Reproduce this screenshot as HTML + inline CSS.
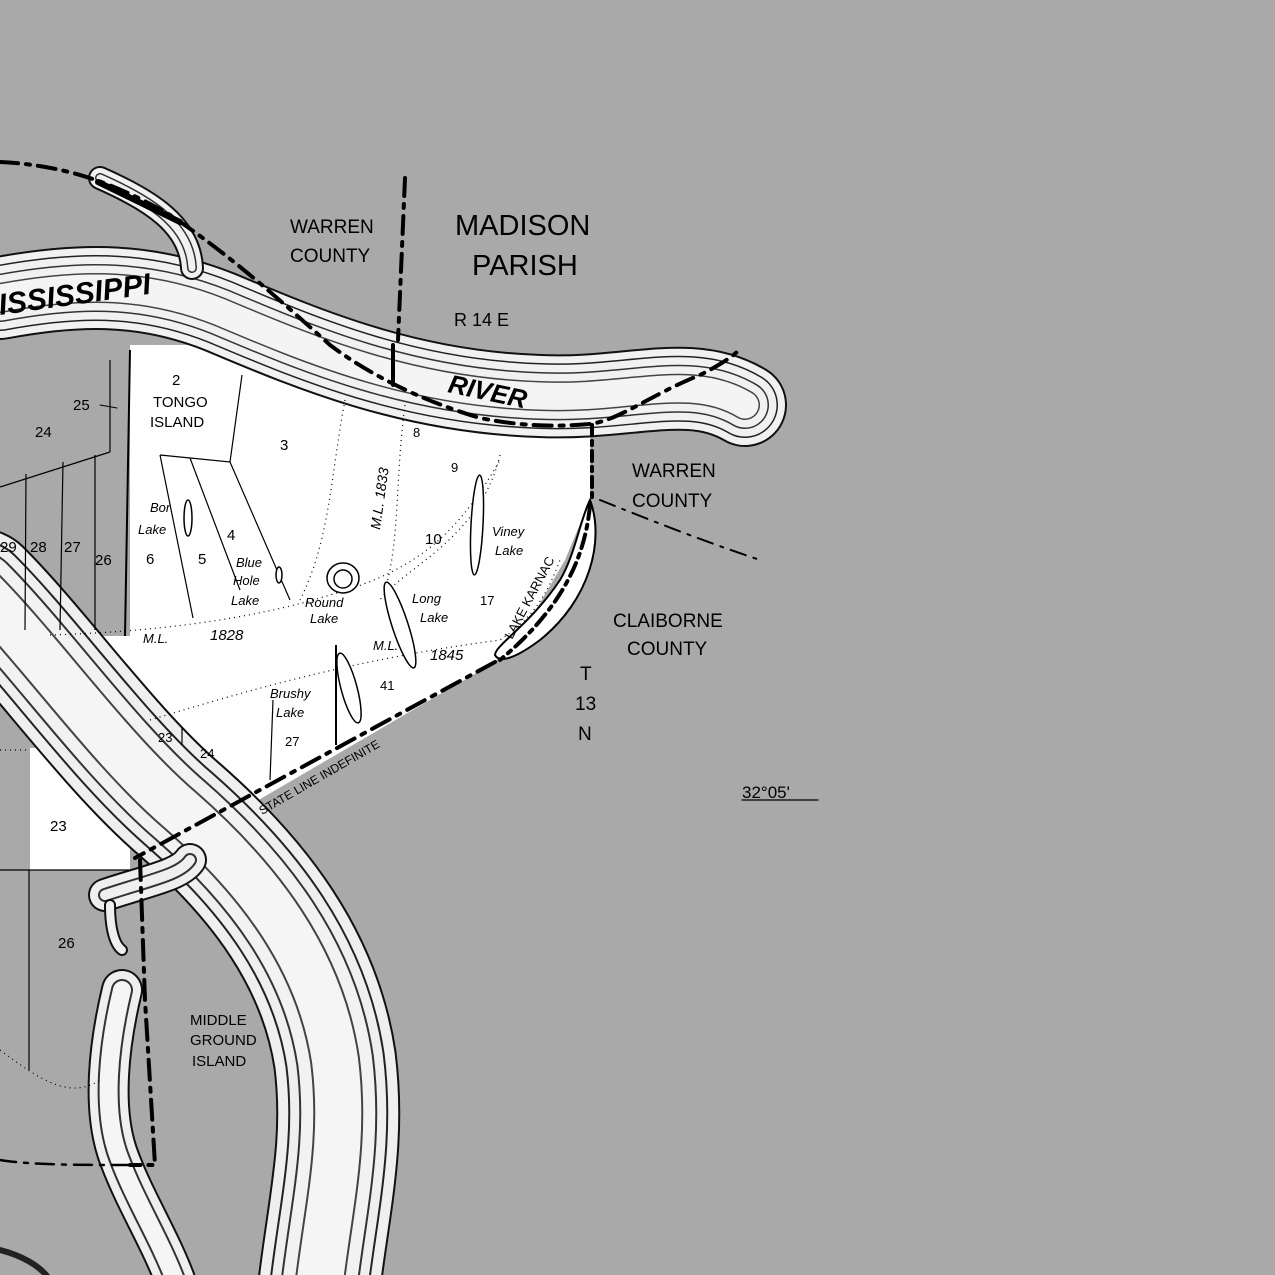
<!DOCTYPE html>
<html><head><meta charset="utf-8"><style>
html,body{margin:0;padding:0;background:#a9a9a9;}
svg{display:block}
text{font-family:"Liberation Sans",sans-serif;fill:#000}
</style></head><body>
<svg width="1275" height="1275" viewBox="0 0 1275 1275" xmlns="http://www.w3.org/2000/svg">
<rect width="1275" height="1275" fill="#a9a9a9"/>
<!-- white land -->
<polygon points="130,345 240,345 350,370 450,405 520,420 590,420 590,500 565,560 530,620 495,662 250,805 100,805 0,700 0,636 130,636" fill="#fff"/>
<rect x="30" y="748" width="100" height="122" fill="#fff"/>
<defs>
<path id="tr" d="M0,298 C70,285 140,280 220,312 C310,350 410,392 540,396 C630,400 690,372 745,405"/>
<path id="lr" d="M-20,590 C40,650 110,750 180,810 C260,880 320,960 335,1060 C345,1140 330,1200 320,1280"/>
<path id="br" d="M100,178 C150,200 190,225 192,268"/>
</defs>
<g fill="none" stroke-linecap="round" stroke-linejoin="round">
<use href="#tr" stroke="#111" stroke-width="84"/>
<use href="#tr" stroke="#f1f1f1" stroke-width="80"/>
<use href="#tr" stroke="#222" stroke-width="66"/>
<use href="#tr" stroke="#f1f1f1" stroke-width="63"/>
<use href="#tr" stroke="#333" stroke-width="48"/>
<use href="#tr" stroke="#f1f1f1" stroke-width="45"/>
<use href="#tr" stroke="#444" stroke-width="30"/>
<use href="#tr" stroke="#f4f4f4" stroke-width="27"/>
<use href="#br" stroke="#111" stroke-width="24"/>
<use href="#br" stroke="#f1f1f1" stroke-width="20"/>
<use href="#br" stroke="#333" stroke-width="10"/>
<use href="#br" stroke="#f1f1f1" stroke-width="7"/>
<use href="#lr" stroke="#111" stroke-width="124"/>
<use href="#lr" stroke="#efefef" stroke-width="120"/>
<use href="#lr" stroke="#222" stroke-width="100"/>
<use href="#lr" stroke="#efefef" stroke-width="96"/>
<use href="#lr" stroke="#333" stroke-width="78"/>
<use href="#lr" stroke="#f2f2f2" stroke-width="74"/>
<use href="#lr" stroke="#444" stroke-width="50"/>
<use href="#lr" stroke="#f5f5f5" stroke-width="46"/>
<!-- hook near fork -->
<path d="M105,895 C150,880 180,875 190,860" stroke="#111" stroke-width="34"/>
<path d="M105,895 C150,880 180,875 190,860" stroke="#efefef" stroke-width="30"/>
<path d="M105,895 C150,880 180,875 190,860" stroke="#333" stroke-width="14"/>
<path d="M105,895 C150,880 180,875 190,860" stroke="#efefef" stroke-width="10"/>
<path d="M110,905 C110,930 115,945 122,950" stroke="#111" stroke-width="12"/>
<path d="M110,905 C110,930 115,945 122,950" stroke="#efefef" stroke-width="8"/>
<!-- island strip -->
<path d="M122,990 C110,1040 100,1110 120,1160 C135,1200 160,1240 175,1280" stroke="#111" stroke-width="42"/>
<path d="M122,990 C110,1040 100,1110 120,1160 C135,1200 160,1240 175,1280" stroke="#efefef" stroke-width="38"/>
<path d="M122,990 C110,1040 100,1110 120,1160 C135,1200 160,1240 175,1280" stroke="#333" stroke-width="22"/>
<path d="M122,990 C110,1040 100,1110 120,1160 C135,1200 160,1240 175,1280" stroke="#f5f5f5" stroke-width="18"/>
<path d="M0,1250 C20,1255 40,1265 50,1280" stroke="#222" stroke-width="6"/>
</g>
<!-- section lines -->
<g stroke="#000" stroke-width="1.2" fill="none">
<line x1="130" y1="350" x2="125" y2="636" stroke-width="2"/>
<line x1="110" y1="360" x2="110" y2="452"/>
<line x1="110" y1="452" x2="0" y2="487"/>
<line x1="95" y1="455" x2="95" y2="630"/>
<line x1="63" y1="462" x2="60" y2="630"/>
<line x1="26" y1="474" x2="25" y2="630"/>
<polyline points="242,375 230,462 160,455"/>
<polyline points="230,462 290,600"/>
<line x1="190" y1="458" x2="240" y2="590"/>
<line x1="160" y1="455" x2="193" y2="618"/>
<line x1="29" y1="870" x2="29" y2="1070"/>
<line x1="0" y1="870" x2="130" y2="870"/>
<line x1="336" y1="645" x2="336" y2="745" stroke-width="2"/>
<line x1="273" y1="700" x2="270" y2="780"/>
<line x1="182" y1="728" x2="182" y2="745"/>
</g>
<g stroke="#000" stroke-width="1.2" fill="none" stroke-dasharray="1,4">
<path d="M50,635 C150,632 250,620 330,595 C420,570 460,530 500,460"/>
<path d="M150,720 C250,690 350,660 500,640 C530,620 545,600 560,560"/>
<path d="M345,400 C330,480 330,540 300,600"/>
<path d="M405,405 C395,480 400,540 385,590"/>
<path d="M500,455 C480,540 400,570 380,600"/>
<path d="M0,750 L30,750"/>
<path d="M0,1050 C40,1080 70,1100 100,1080"/>
</g>
<!-- lakes -->
<g fill="#fff" stroke="#000" stroke-width="1.5">
<ellipse cx="188" cy="518" rx="4" ry="18"/>
<ellipse cx="279" cy="575" rx="3" ry="8"/>
<ellipse cx="343" cy="578" rx="16" ry="15"/>
<ellipse cx="343" cy="579" rx="9" ry="9"/>
<ellipse cx="477" cy="525" rx="6" ry="50" transform="rotate(3 477 525)"/>
<ellipse cx="400" cy="625" rx="8" ry="45" transform="rotate(-18 400 625)"/>
<ellipse cx="349" cy="688" rx="8" ry="36" transform="rotate(-15 349 688)"/>
<path d="M590,500 C605,540 590,600 540,640 C520,655 500,665 495,655 C495,645 530,625 560,580 C575,555 580,520 590,500Z" stroke-width="2"/>
</g>
<!-- boundaries -->
<g fill="none" stroke="#000" stroke-linecap="round">
<path d="M0,162 C60,165 110,180 170,215 C230,255 280,300 330,345 C370,375 420,400 480,418 C530,428 565,426 590,424 C620,420 650,395 700,375 C720,365 730,358 737,352" stroke-width="4" stroke-dasharray="18,8,4,8"/>
<path d="M98,182 L180,222" stroke-width="6"/>
<line x1="405" y1="178" x2="398" y2="340" stroke-width="4" stroke-dasharray="18,8,4,8"/>
<line x1="393" y1="345" x2="393" y2="385" stroke-width="4"/>
<line x1="592" y1="425" x2="592" y2="500" stroke-width="4" stroke-dasharray="10,6,4,6"/>
<path d="M600,500 C650,520 700,540 760,560" stroke-width="2" stroke-dasharray="16,8,3,8"/>
<path d="M590,505 C585,560 560,610 500,660" stroke-width="4" stroke-dasharray="14,6,4,6"/>
<path d="M495,662 L135,858" stroke-width="4" stroke-dasharray="20,8,4,8"/>
<path d="M140,860 L145,1000 L155,1165 L130,1165" stroke-width="4" stroke-dasharray="20,8,4,8"/>
<path d="M130,1165 C80,1165 30,1165 0,1160" stroke-width="2.5" stroke-dasharray="18,8,4,8"/>
<line x1="742" y1="800" x2="818" y2="800" stroke-width="1.2"/>
<line x1="117" y1="408" x2="100" y2="405" stroke-width="1"/>
</g>
<!-- labels -->
<g font-size="19">
<text x="290" y="233">WARREN</text>
<text x="290" y="262">COUNTY</text>
<text x="455" y="235" font-size="29">MADISON</text>
<text x="472" y="275" font-size="29">PARISH</text>
<text x="454" y="326" font-size="18">R 14 E</text>
<text x="632" y="477">WARREN</text>
<text x="632" y="507">COUNTY</text>
<text x="613" y="627">CLAIBORNE</text>
<text x="627" y="655">COUNTY</text>
<text x="580" y="680">T</text>
<text x="575" y="710">13</text>
<text x="578" y="740">N</text>
<text x="742" y="798" font-size="17">32°05'</text>
<text x="190" y="1025" font-size="15">MIDDLE</text>
<text x="190" y="1045" font-size="15">GROUND</text>
<text x="192" y="1066" font-size="15">ISLAND</text>
</g>
<text x="0" y="315" font-size="30" font-weight="bold" font-style="italic" transform="rotate(-8 0 315)">ISSISSIPPI</text>
<text x="447" y="392" font-size="26" font-weight="bold" font-style="italic" transform="rotate(12 447 392)">RIVER</text>
<g font-size="15">
<text x="172" y="385">2</text>
<text x="153" y="407">TONGO</text>
<text x="150" y="427">ISLAND</text>
<text x="73" y="410">25</text>
<text x="35" y="437">24</text>
<text x="280" y="450">3</text>
<text x="227" y="540">4</text>
<text x="198" y="564">5</text>
<text x="146" y="564">6</text>
<text x="0" y="552">29</text>
<text x="30" y="552">28</text>
<text x="64" y="552">27</text>
<text x="95" y="565">26</text>
<text x="413" y="437" font-size="13">8</text>
<text x="451" y="472" font-size="13">9</text>
<text x="425" y="544">10</text>
<text x="480" y="605" font-size="13">17</text>
<text x="380" y="690" font-size="13">41</text>
<text x="158" y="742" font-size="13">23</text>
<text x="200" y="758" font-size="13">24</text>
<text x="285" y="746" font-size="13">27</text>
<text x="50" y="831">23</text>
<text x="58" y="948">26</text>
</g>
<g font-size="13" font-style="italic">
<text x="150" y="512">Bor</text>
<text x="138" y="534">Lake</text>
<text x="236" y="567">Blue</text>
<text x="233" y="585">Hole</text>
<text x="231" y="605">Lake</text>
<text x="305" y="607">Round</text>
<text x="310" y="623">Lake</text>
<text x="412" y="603">Long</text>
<text x="420" y="622">Lake</text>
<text x="492" y="536">Viney</text>
<text x="495" y="555">Lake</text>
<text x="270" y="698">Brushy</text>
<text x="276" y="717">Lake</text>
<text x="143" y="643">M.L.</text>
<text x="210" y="640" font-size="15">1828</text>
<text x="373" y="650">M.L.</text>
<text x="430" y="660" font-size="15">1845</text>
<text x="380" y="530" font-size="14" transform="rotate(-82 380 530)">M.L. 1833</text>
</g>
<text x="512" y="640" font-size="13" transform="rotate(-62 512 640)">LAKE KARNAC</text>
<text x="262" y="815" font-size="12" transform="rotate(-30 262 815)">STATE LINE INDEFINITE</text>
</svg>
</body></html>
